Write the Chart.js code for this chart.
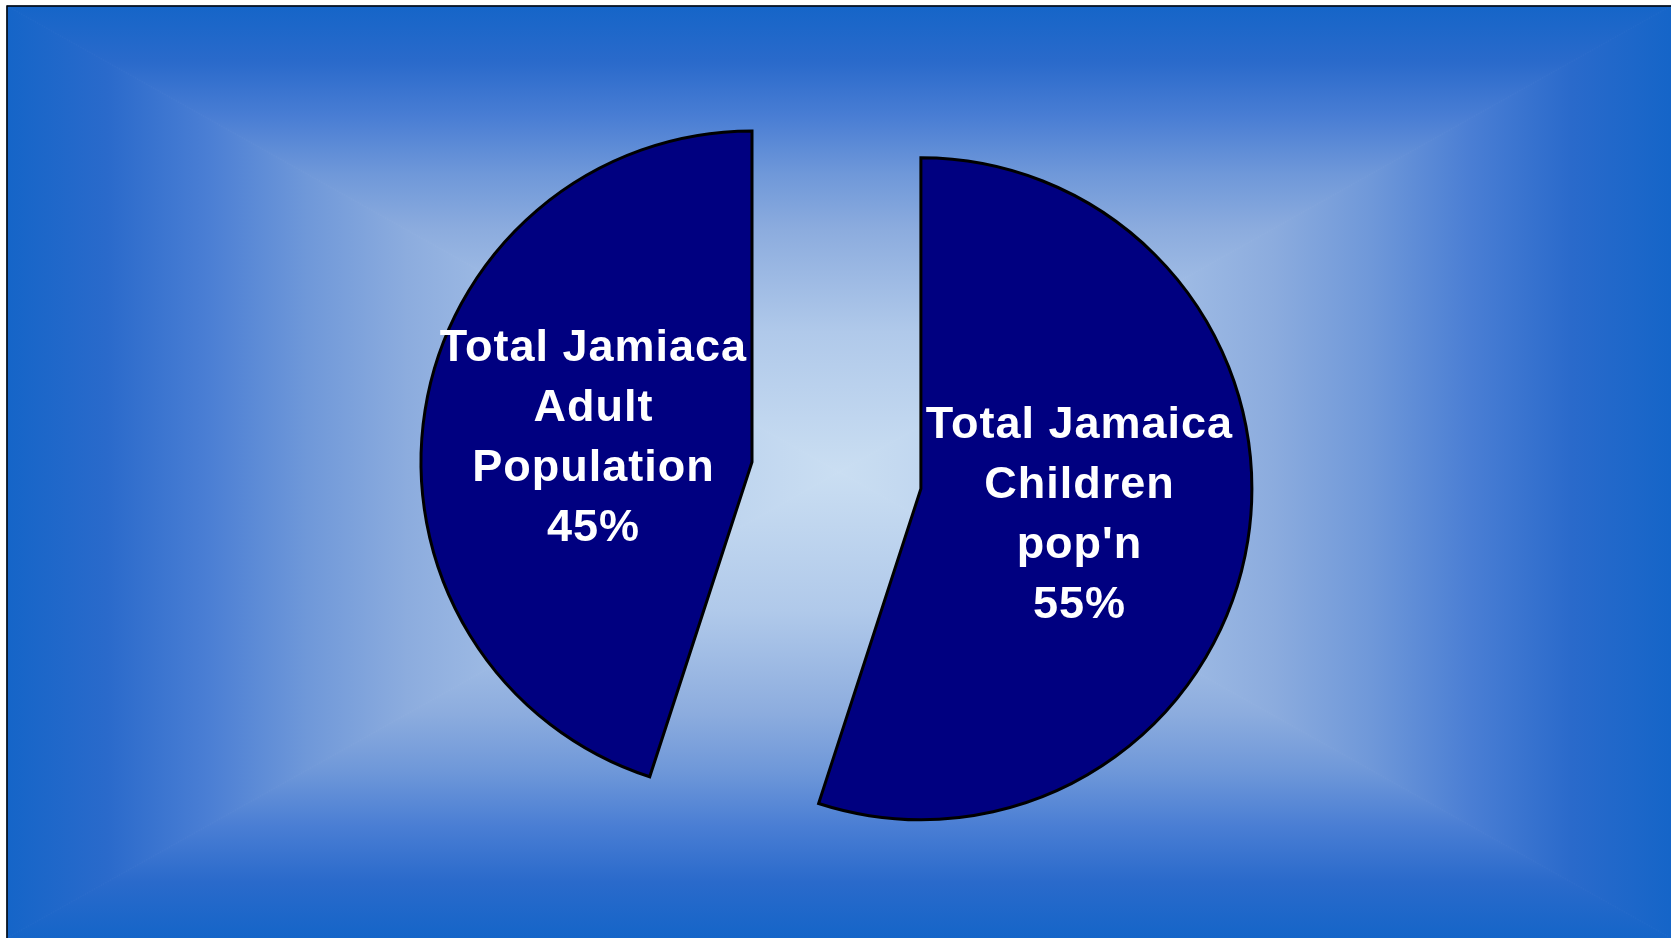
<!DOCTYPE html>
<html>
<head>
<meta charset="utf-8">
<script src="https://cdn.jsdelivr.net/npm/chart.js@4/dist/chart.umd.min.js"></script>
<style>
  html, body { margin: 0; padding: 0; background: #ffffff; overflow: hidden; }
  #wrap { width: 1671px; height: 938px; }
</style>
</head>
<body>
<div id="wrap"><canvas id="popChart" width="1671" height="938"></canvas></div>
<script>
// slices, clockwise from 12 o'clock
const sliceNames = ["Total Jamaica Children pop'n", "Total Jamiaca Adult Population"];
const sliceValues = [55, 45];
const sliceLines = [
  ["Total Jamaica", "Children", "pop'n"],
  ["Total Jamiaca", "Adult", "Population"]
];
// how far each slice is pulled out of the pie (px)
const sliceExplode = [171, 0];

// rectangular "from centre" fill behind the plot
const framePlugin = {
  id: 'frame',
  beforeDraw(chart) {
    const ctx = chart.ctx;
    const x0 = 7, y0 = 6, x1 = chart.width, y1 = chart.height;
    const cx = (x0 + x1) / 2, cy = (y0 + y1) / 2;
    const stops = [
      [0, '#1565c8'], [0.12, '#2a6acb'], [0.24, '#4a7ed4'], [0.36, '#6f98d9'],
      [0.48, '#8cacde'], [0.7, '#b0c9ea'], [1, '#cadef2']
    ];
    const sides = [
      [[x0, y0], [x1, y0], cx, y0, cx, cy],
      [[x1, y0], [x1, y1], x1, cy, cx, cy],
      [[x1, y1], [x0, y1], cx, y1, cx, cy],
      [[x0, y1], [x0, y0], x0, cy, cx, cy]
    ];
    ctx.save();
    ctx.fillStyle = '#ffffff';
    ctx.fillRect(0, 0, chart.width, chart.height);
    sides.forEach(s => {
      const g = ctx.createLinearGradient(s[2], s[3], s[4], s[5]);
      stops.forEach(st => g.addColorStop(st[0], st[1]));
      ctx.beginPath();
      ctx.moveTo(s[0][0], s[0][1]);
      ctx.lineTo(s[1][0], s[1][1]);
      ctx.lineTo(cx, cy);
      ctx.closePath();
      ctx.fillStyle = g;
      ctx.fill();
      ctx.strokeStyle = g;
      ctx.lineWidth = 1;
      ctx.stroke();
    });
    ctx.strokeStyle = '#000000';
    ctx.lineWidth = 1.5;
    ctx.beginPath();
    ctx.moveTo(x0, y1 + 5);
    ctx.lineTo(x0, y0);
    ctx.lineTo(x1 + 5, y0);
    ctx.stroke();
    ctx.restore();
  }
};

// pull slices out along their bisector without changing their radius
const explodePlugin = {
  id: 'explode',
  afterDatasetUpdate(chart, args) {
    const meta = chart.getDatasetMeta(args.index);
    meta.data.forEach((arc, i) => {
      const half = (arc.startAngle + arc.endAngle) / 2;
      arc.x += Math.cos(half) * sliceExplode[i];
      arc.y += Math.sin(half) * sliceExplode[i];
    });
  }
};

// labels inside each slice
const labelPlugin = {
  id: 'sliceLabels',
  afterDatasetsDraw(chart) {
    const ctx = chart.ctx;
    const meta = chart.getDatasetMeta(0);
    const total = sliceValues.reduce((a, b) => a + b, 0);
    ctx.save();
    ctx.font = 'bold 45px "Liberation Sans", Arial, sans-serif';
    ctx.letterSpacing = '1px';
    ctx.fillStyle = '#ffffff';
    ctx.textAlign = 'center';
    ctx.textBaseline = 'middle';
    meta.data.forEach((arc, i) => {
      const half = (arc.startAngle + arc.endAngle) / 2;
      const dist = arc.outerRadius * 0.485;
      const lx = arc.x + Math.cos(half) * dist;
      const ly = arc.y + Math.sin(half) * dist + 2;
      const lines = sliceLines[i].concat([Math.round(sliceValues[i] / total * 100) + '%']);
      const lh = 60;
      lines.forEach((t, k) => {
        ctx.fillText(t, lx, ly + (k - (lines.length - 1) / 2) * lh);
      });
    });
    ctx.restore();
  }
};

new Chart(document.getElementById('popChart'), {
  type: 'pie',
  data: {
    labels: sliceNames,
    datasets: [{
      data: sliceValues,
      backgroundColor: '#000080',
      borderColor: '#000000',
      borderWidth: 3,
      borderJoinStyle: 'miter'
    }]
  },
  options: {
    responsive: false,
    animation: false,
    radius: 331,
    layout: { padding: { left: 352, right: 519, top: 62, bottom: 76 } },
    plugins: {
      legend: { display: false },
      tooltip: { enabled: false }
    }
  },
  plugins: [framePlugin, explodePlugin, labelPlugin]
});
</script>
</body>
</html>
